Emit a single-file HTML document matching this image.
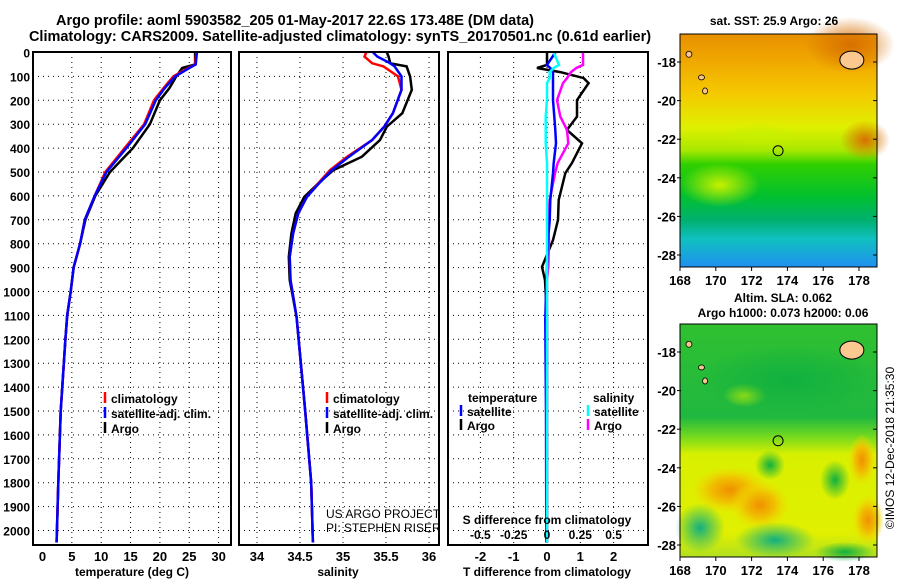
<!DOCTYPE html>
<html><head><meta charset="utf-8"><style>
body{margin:0;background:#fff;width:900px;height:580px;overflow:hidden}
svg text{font-family:"Liberation Sans",sans-serif;font-weight:bold;fill:#000}
</style></head><body>
<svg id="s" width="900" height="580" viewBox="0 0 900 580" xmlns="http://www.w3.org/2000/svg">
<defs>
<linearGradient id="g1" x1="0" y1="0" x2="0" y2="1">
<stop offset="0" stop-color="#e89000"/><stop offset="0.12" stop-color="#f0a800"/><stop offset="0.25" stop-color="#f5c800"/><stop offset="0.4" stop-color="#e0f000"/><stop offset="0.5" stop-color="#a8e800"/><stop offset="0.56" stop-color="#30d000"/><stop offset="0.7" stop-color="#00c030"/><stop offset="0.8" stop-color="#00b070"/><stop offset="0.88" stop-color="#10c0c0"/><stop offset="1" stop-color="#2090f0"/>
</linearGradient>
<linearGradient id="g2" x1="0" y1="0" x2="0" y2="1">
<stop offset="0" stop-color="#30c030"/><stop offset="0.4" stop-color="#20b840"/><stop offset="0.48" stop-color="#70d820"/><stop offset="0.56" stop-color="#d8f000"/><stop offset="0.9" stop-color="#e0f000"/><stop offset="1" stop-color="#b0e020"/>
</linearGradient>
<radialGradient id="ro"><stop offset="0" stop-color="#d87000"/><stop offset="1" stop-color="#d87000" stop-opacity="0"/></radialGradient>
<radialGradient id="ry"><stop offset="0" stop-color="#c8f000"/><stop offset="1" stop-color="#c8f000" stop-opacity="0"/></radialGradient>
<radialGradient id="ror"><stop offset="0" stop-color="#f09000"/><stop offset="0.5" stop-color="#f0c000"/><stop offset="1" stop-color="#f0e000" stop-opacity="0"/></radialGradient>
<radialGradient id="rg"><stop offset="0" stop-color="#10b040"/><stop offset="1" stop-color="#10b040" stop-opacity="0"/></radialGradient>
<radialGradient id="rt"><stop offset="0" stop-color="#10b080"/><stop offset="1" stop-color="#10b080" stop-opacity="0"/></radialGradient>
</defs>
<g id="plots"></g>
<g id="maps"></g>
</svg>
<script>
// ---- data ----
const tDepth = [0,50,65,100,150,200,300,400,500,600,700,800,900,1000,1100,1200,1500,1800,2050];
const tClim  = [26.2,26.0,24.8,22.3,20.6,19.0,17.3,14.0,10.7,8.9,7.2,6.4,5.3,4.8,4.2,3.9,3.1,2.7,2.4];
const tSat   = [26.3,26.1,25.0,22.6,20.8,19.3,17.5,14.3,10.9,8.9,7.2,6.4,5.3,4.8,4.2,3.9,3.1,2.7,2.4];
const tArgo  = [26.0,26.0,23.8,22.8,21.6,20.0,18.3,15.4,11.5,9.0,7.3,6.4,5.3,4.8,4.2,3.9,3.1,2.7,2.4];
const sDepth = [0,17,45,58,100,156,254,310,366,436,492,548,604,673,757,855,952,1107,1500,1800,2050];
const sClim  = [35.27,35.25,35.34,35.47,35.64,35.68,35.58,35.48,35.34,35.05,34.85,34.71,34.58,34.48,34.42,34.38,34.39,34.46,34.56,34.63,34.65];
const sSat   = [35.35,35.40,35.55,35.60,35.68,35.68,35.58,35.48,35.34,35.07,34.87,34.72,34.58,34.48,34.42,34.38,34.39,34.46,34.56,34.63,34.65];
const sArgo  = [35.51,35.53,35.55,35.74,35.78,35.80,35.69,35.51,35.43,35.22,34.89,34.71,34.55,34.45,34.40,34.37,34.38,34.46,34.56,34.63,34.65];
const dDepth = [0,52,65,82,107,128,199,268,324,380,462,505,617,701,785,897,952,1119,1500,2050];
const dTArgo = [0.0,0.0,-0.3,0.4,1.1,1.25,0.9,0.9,0.6,1.05,0.75,0.55,0.35,0.33,0.18,-0.15,-0.06,0.0,0.0,0.0];
const dTSat  = [0.25,0.0,0.1,0.18,0.18,0.18,0.18,0.22,0.25,0.27,0.2,0.18,0.1,0.08,0.03,0.0,-0.02,-0.05,-0.03,-0.02];
const dSArgo = [0.27,0.27,0.22,0.18,0.15,0.12,0.075,0.1,0.15,0.16,0.08,0.06,0.02,0.0,0.015,0.01,0.0,0.0,0.0,0.0];
const dSSat  = [0.05,0.09,0.05,0.02,0.02,0.0,0.0,-0.01,-0.01,-0.01,0.0,0.0,0.0,0.0,0.0,0.0,0.0,0.0,0.0,0.0];
const depthTicks = [0,100,200,300,400,500,600,700,800,900,1000,1100,1200,1300,1400,1500,1600,1700,1800,1900,2000];
const tTicks = [0,5,10,15,20,25,30];
const sTicks = [34,34.5,35,35.5,36];
const dtTicks = [-2,-1,0,1,2];
const dsTicks = [-0.5,-0.25,0,0.25,0.5];
const latTicks = [-18,-20,-22,-24,-26,-28];
const lonTicks = [168,170,172,174,176,178];

const NS="http://www.w3.org/2000/svg";
const plots=document.getElementById('plots');
function mk(tag,attrs,parent){const e=document.createElementNS(NS,tag);for(const k in attrs)e.setAttribute(k,attrs[k]);(parent||plots).appendChild(e);return e;}
function tx(str,x,y,size,anchor,parent){const e=mk('text',{x:x,y:y,'font-size':size,'text-anchor':anchor||'middle'},parent);e.textContent=str;return e;}
const Y=d=>52.5+d*0.239;
const pTop=52,pBot=545;
const xT=v=>42.5+v*5.87;
const xS=v=>257+(v-34)*86;
const xDT=v=>547+v*33.3;
const xDS=v=>547+v*133.2;

function panel(x0,x1,name){
  const g=mk('g',{});
  
  
  depthTicks.forEach(d=>{ if(d>0){const l=mk('line',{x1:x0,x2:x1,y1:Y(d),y2:Y(d),stroke:'#000','stroke-width':1,'stroke-dasharray':'1,4'},g);
    
    }});
  return g;
}
function vgrid(g,xs){xs.forEach(x=>{const l=mk('line',{x1:x,x2:x,y1:pTop,y2:pBot,stroke:'#000','stroke-width':1,'stroke-dasharray':'1,4'},g);
  
  });}
function frame(g,x0,x1){const r=mk('rect',{x:x0,y:pTop,width:x1-x0,height:pBot-pTop,fill:'none',stroke:'#000','stroke-width':2},g);
  
  }
function line(g,depths,vals,fx,color,w,name){
  const pts=depths.map((d,i)=>fx(vals[i]).toFixed(1)+','+Y(d).toFixed(1)).join(' ');
  const p=mk('polyline',{points:pts,fill:'none',stroke:color,'stroke-width':w},g);
  
  
}
function legend(g,x,y,color,label){
  const l=mk('line',{x1:x,x2:x,y1:y-11,y2:y,stroke:color,'stroke-width':2.5},g);
  
  
  const t=tx(label,x+6,y,12,'start',g);
  
  
}

let t1=tx('Argo profile: aoml 5903582_205 01-May-2017 22.6S 173.48E (DM data)',295,25,14.5);


let t2=tx('Climatology: CARS2009. Satellite-adjusted climatology: synTS_20170501.nc (0.61d earlier)',340,41,14.5);



depthTicks.forEach(d=>{const t=tx(String(d),30,Y(d)+5,12,'end');
  
  });

const g1=panel(33,231,'temperature-panel');
vgrid(g1,tTicks.slice(1).map(xT));
line(g1,tDepth,tArgo,xT,'#000',2.5,'argo-temperature-line');
line(g1,tDepth,tClim,xT,'#f00',2.5,'climatology-temperature-line');
line(g1,tDepth,tSat,xT,'#00f',2.5,'satellite-temperature-line');
frame(g1,33,231);
tTicks.forEach(v=>{const t=tx(String(v),xT(v),561,13);});
let xl1=tx('temperature (deg C)',132,576,12);
legend(g1,105,403,'#f00','climatology');
legend(g1,105,418,'#00f','satellite-adj. clim.');
legend(g1,105,433,'#000','Argo');

const g2=panel(239,439,'salinity-panel');
vgrid(g2,sTicks.map(xS));
line(g2,sDepth,sArgo,xS,'#000',2.5,'argo-salinity-line');
line(g2,sDepth,sClim,xS,'#f00',2.5,'climatology-salinity-line');
line(g2,sDepth,sSat,xS,'#00f',2.5,'satellite-salinity-line');
frame(g2,239,439);
sTicks.forEach(v=>{const t=tx(String(v),xS(v),561,13);});
let xl2=tx('salinity',338,576,12);
legend(g2,327,403,'#f00','climatology');
legend(g2,327,418,'#00f','satellite-adj. clim.');
legend(g2,327,433,'#000','Argo');
let c1=mk('text',{x:326,y:518,'font-size':12,'text-anchor':'start',style:'font-weight:normal'},g2);c1.textContent='US ARGO PROJECT';

let c2=mk('text',{x:326,y:532,'font-size':12,'text-anchor':'start',style:'font-weight:normal'},g2);c2.textContent='PI: STEPHEN RISER';


const g3=panel(448,648,'difference-panel');
vgrid(g3,dtTicks.map(xDT));
line(g3,dDepth,dTArgo,xDT,'#000',2.5,'argo-temperature-difference-line');
line(g3,dDepth,dSArgo,xDS,'#f0f',2.5,'argo-salinity-difference-line');
line(g3,dDepth,dTSat,xDT,'#00f',2.5,'satellite-temperature-difference-line');
line(g3,dDepth,dSSat,xDS,'#0ff',2.5,'satellite-salinity-difference-line');
frame(g3,448,648);
dtTicks.forEach(v=>{const t=tx(String(v),xDT(v),561,13);});
dsTicks.forEach(v=>{const t=tx(String(v),xDS(v),539,12);});
let sd=tx('S difference from climatology',547,524,12);
let td=tx('T difference from climatology',547,576,12);
let lt=tx('temperature',468,402,12,'start',g3);
legend(g3,461,416,'#00f','satellite');
legend(g3,461,430,'#000','Argo');
let ls=tx('salinity',593,402,12,'start',g3);
legend(g3,588,416,'#0ff','satellite');
legend(g3,588,430,'#f0f','Argo');

const maps=document.getElementById('maps');
function map(y0,y1,lat18,lat28,fill,extra,name,title,titleLines){
  const g=mk('g',{},maps);
  
  
  mk('rect',{x:680,y:y0,width:197,height:y1-y0,fill:fill},g);
  extra.forEach(e=>mk('ellipse',e,g));
  const latY=l=>lat18+(-18-l)*(lat28-lat18)/10;
  const lonX=l=>680+(l-168)*17.9;
  mk('ellipse',{cx:lonX(177.6),cy:latY(-17.9),rx:12,ry:9,fill:'#fbc890',stroke:'#000','stroke-width':1},g);
  mk('ellipse',{cx:lonX(169.2),cy:latY(-18.8),rx:3,ry:2.5,fill:'#fbc890',stroke:'#000','stroke-width':0.8},g);
  mk('ellipse',{cx:lonX(169.4),cy:latY(-19.5),rx:2.5,ry:3,fill:'#fbc890',stroke:'#000','stroke-width':0.8},g);
  mk('ellipse',{cx:lonX(168.5),cy:latY(-17.6),rx:3,ry:3,fill:'#fbc890',stroke:'#000','stroke-width':0.8},g);
  const c=mk('circle',{cx:lonX(173.48),cy:latY(-22.6),r:5,fill:'none',stroke:'#000','stroke-width':1},g);
  
  
  mk('rect',{x:680,y:y0,width:197,height:y1-y0,fill:'none',stroke:'#000','stroke-width':1},g);
  latTicks.forEach(l=>{mk('line',{x1:677,x2:681,y1:latY(l),y2:latY(l),stroke:'#000'},g);
    mk('line',{x1:873,x2:877,y1:latY(l),y2:latY(l),stroke:'#000'},g);
    const t=tx(String(l),676,latY(l)+5,13,'end',g);
    
    });
  lonTicks.forEach(l=>{mk('line',{x1:lonX(l),x2:lonX(l),y1:y1,y2:y1+4,stroke:'#000'},g);
    const t=tx(String(l),lonX(l),y1+18,13,'middle',g);
    
    });
  titleLines.forEach((s,i)=>{const t=tx(s,titleLines.length>1?783:774,title+i*15,12,'middle',g);
    
    });
}
map(34,267,62,255,'url(#g1)',[
 {cx:850,cy:45,rx:45,ry:28,fill:'url(#ro)'},
 {cx:865,cy:140,rx:25,ry:20,fill:'url(#ro)'},
 {cx:720,cy:185,rx:40,ry:22,fill:'url(#ry)'},
 {cx:760,cy:135,rx:40,ry:12,fill:'url(#ry)'}
],'sst-map',25,['sat. SST: 25.9 Argo: 26']);
map(324,557,352,545,'url(#g2)',[
 {cx:730,cy:490,rx:40,ry:24,fill:'url(#ror)'},
 {cx:760,cy:505,rx:30,ry:25,fill:'url(#ror)'},
 {cx:862,cy:460,rx:14,ry:26,fill:'url(#ror)'},
 {cx:868,cy:520,rx:16,ry:25,fill:'url(#ror)'},
 {cx:745,cy:395,rx:22,ry:12,fill:'url(#ry)'},
 {cx:770,cy:465,rx:15,ry:15,fill:'url(#rg)'},
 {cx:835,cy:480,rx:15,ry:20,fill:'url(#rg)'},
 {cx:700,cy:528,rx:25,ry:25,fill:'url(#rt)'},
 {cx:775,cy:540,rx:40,ry:18,fill:'url(#rt)'},
 {cx:845,cy:552,rx:30,ry:10,fill:'url(#rg)'},
 {cx:790,cy:380,rx:95,ry:35,fill:'url(#rg)'}
],'sla-map',302,['Altim. SLA: 0.062','Argo h1000: 0.073 h2000: 0.06']);
const st=tx('©IMOS 12-Dec-2018 21:35:30',0,0,12,'middle',maps);
st.setAttribute('transform','translate(894,448) rotate(-90)');
st.setAttribute('style','font-weight:normal');


</script>
</body></html>
